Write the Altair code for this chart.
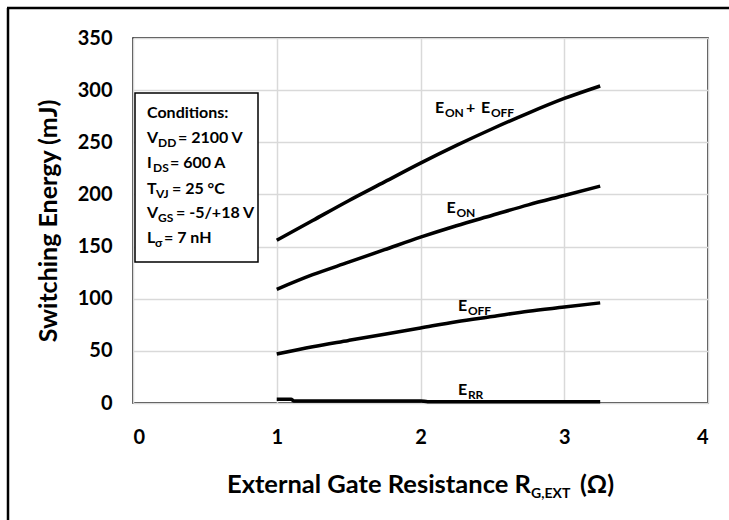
import altair as alt
import pandas as pd

# Switching energy vs. external gate resistance
r_g = [1.0, 1.25, 1.5, 1.75, 2.0, 2.25, 2.5, 2.75, 3.0, 3.25]
e_total = [156, 175, 194, 212, 230, 247, 263, 278, 292, 304]
e_on = [109, 123, 135, 147, 159, 170, 180, 190, 199, 208]
e_off = [47, 54, 60, 66, 72, 78, 83, 88, 92, 96]

r_g_rr = [1.0, 1.1, 1.12, 2.0, 2.05, 3.25]
e_rr = [3.5, 3.5, 2.0, 2.0, 1.2, 1.2]

x_ticks = [0, 1, 2, 3, 4]
y_ticks = [0, 50, 100, 150, 200, 250, 300, 350]

FONT = "Lato"
W, H = 575, 365

rows = []
for name, ys in [("E_ON+E_OFF", e_total), ("E_ON", e_on), ("E_OFF", e_off)]:
    for xv, yv in zip(r_g, ys):
        rows.append({"series": name, "r": xv, "e": yv})
for xv, yv in zip(r_g_rr, e_rr):
    rows.append({"series": "E_RR", "r": xv, "e": yv})
df = pd.DataFrame(rows)

x_scale = alt.Scale(domain=[0, 4], nice=False, zero=False)
y_scale = alt.Scale(domain=[0, 350], nice=False)

curves = alt.Chart(df).mark_line(
    color="black", strokeWidth=3.5, interpolate="monotone", strokeCap="butt"
).encode(
    x=alt.X("r:Q", scale=x_scale,
            axis=alt.Axis(values=x_ticks, format="d", title=None, grid=True,
                          domain=False, ticks=False, labelPadding=24, labelFontSize=20,
                          labelFont=FONT, labelFontWeight="bold", labelColor="black",
                          gridColor="#d9d9d9", gridWidth=1.5)),
    y=alt.Y("e:Q", scale=y_scale,
            axis=alt.Axis(values=y_ticks, format="d", title="Switching Energy (mJ)",
                          grid=True, domain=False, ticks=False, labelPadding=21,
                          labelFontSize=20, labelFont=FONT, labelFontWeight="bold",
                          labelColor="black", gridColor="#d9d9d9", gridWidth=1.5,
                          titleFont=FONT, titleFontSize=25, titleFontWeight="bold",
                          titleColor="black", titlePadding=16)),
    detail="series:N",
)

one = pd.DataFrame({"k": [0]})


def txt_data(text, xd, yd, size=16, dx=0, dy=0):
    """Text anchored in data coordinates (left/alphabetic baseline)."""
    return alt.Chart(one).mark_text(
        text=text, align="left", baseline="alphabetic", font=FONT,
        fontWeight="bold", fontSize=size, color="black", dx=dx, dy=dy,
    ).encode(x=alt.datum(xd), y=alt.datum(yd))


def txt_px(text, px, py, size=16):
    """Text anchored in pixels relative to the plot origin."""
    return alt.Chart(one).mark_text(
        text=text, align="left", baseline="alphabetic", font=FONT,
        fontWeight="bold", fontSize=size, color="black",
    ).encode(x=alt.value(px), y=alt.value(py))


SUB = 12
labels = [
    # E_ON + E_OFF
    txt_data("E", 2.10, 278), txt_data("ON", 2.10, 278, SUB, dx=10, dy=4),
    txt_data("+", 2.10, 278, dx=31), txt_data("E", 2.10, 278, dx=46),
    txt_data("OFF", 2.10, 278, SUB, dx=56, dy=4),
    # E_ON
    txt_data("E", 2.18, 182), txt_data("ON", 2.18, 182, SUB, dx=10, dy=4),
    # E_OFF
    txt_data("E", 2.26, 88), txt_data("OFF", 2.26, 88, SUB, dx=10, dy=4),
    # E_RR
    txt_data("E", 2.26, 7.7), txt_data("RR", 2.26, 7.7, SUB, dx=10, dy=4),
]

# Conditions box
box = alt.Chart(one).mark_rect(fill="white", stroke="black", strokeWidth=1.5).encode(
    x=alt.value(2), x2=alt.value(125), y=alt.value(55), y2=alt.value(224)
)

cond_lines = [
    [("Conditions:", 14, 0)],
    [("V", 14, 0), ("DD", 25, 1), ("= 2100 V", 45, 0)],
    [("I", 14, 0), ("DS", 20, 1), ("= 600 A", 37, 0)],
    [("T", 14, 0), ("VJ", 23, 1), ("= 25 °C", 39, 0)],
    [("V", 14, 0), ("GS", 25, 1), ("= -5/+18 V", 43, 0)],
    [("L", 14, 0), ("σ", 22, 1), ("= 7 nH", 31, 0)],
]
baselines = [80, 105, 130, 156, 180, 205]
cond = []
for line, base in zip(cond_lines, baselines):
    for text, px, sub in line:
        if sub:
            cond.append(txt_px(text, px, base + 4, SUB))
        else:
            cond.append(txt_px(text, px, base, 16))

# X axis title with subscript
xtitle = [
    txt_px("External Gate Resistance R", 94, 455, 25.5),
    txt_px("G,EXT", 398, 460, 14),
    txt_px("(Ω)", 447, 455, 25),
]

# Outer frame (left and top edges)
frame = [
    alt.Chart(one).mark_rule(color="black", strokeWidth=2.5).encode(
        x=alt.value(-125), y=alt.value(-30), y2=alt.value(H + 140)),
    alt.Chart(one).mark_rule(color="black", strokeWidth=2.5).encode(
        x=alt.value(-126), x2=alt.value(W + 40), y=alt.value(-30)),
]

chart = alt.layer(
    curves, box, *cond, *labels, *xtitle, *frame
).properties(
    width=W, height=H,
    autosize=alt.AutoSizeParams(type="none"),
    padding={"left": 133, "top": 38, "right": 21, "bottom": 117},
    background="white",
).configure_view(
    stroke="black", strokeWidth=1.5
)

chart.save("out.html", embed_options={"renderer": "svg", "actions": False})
